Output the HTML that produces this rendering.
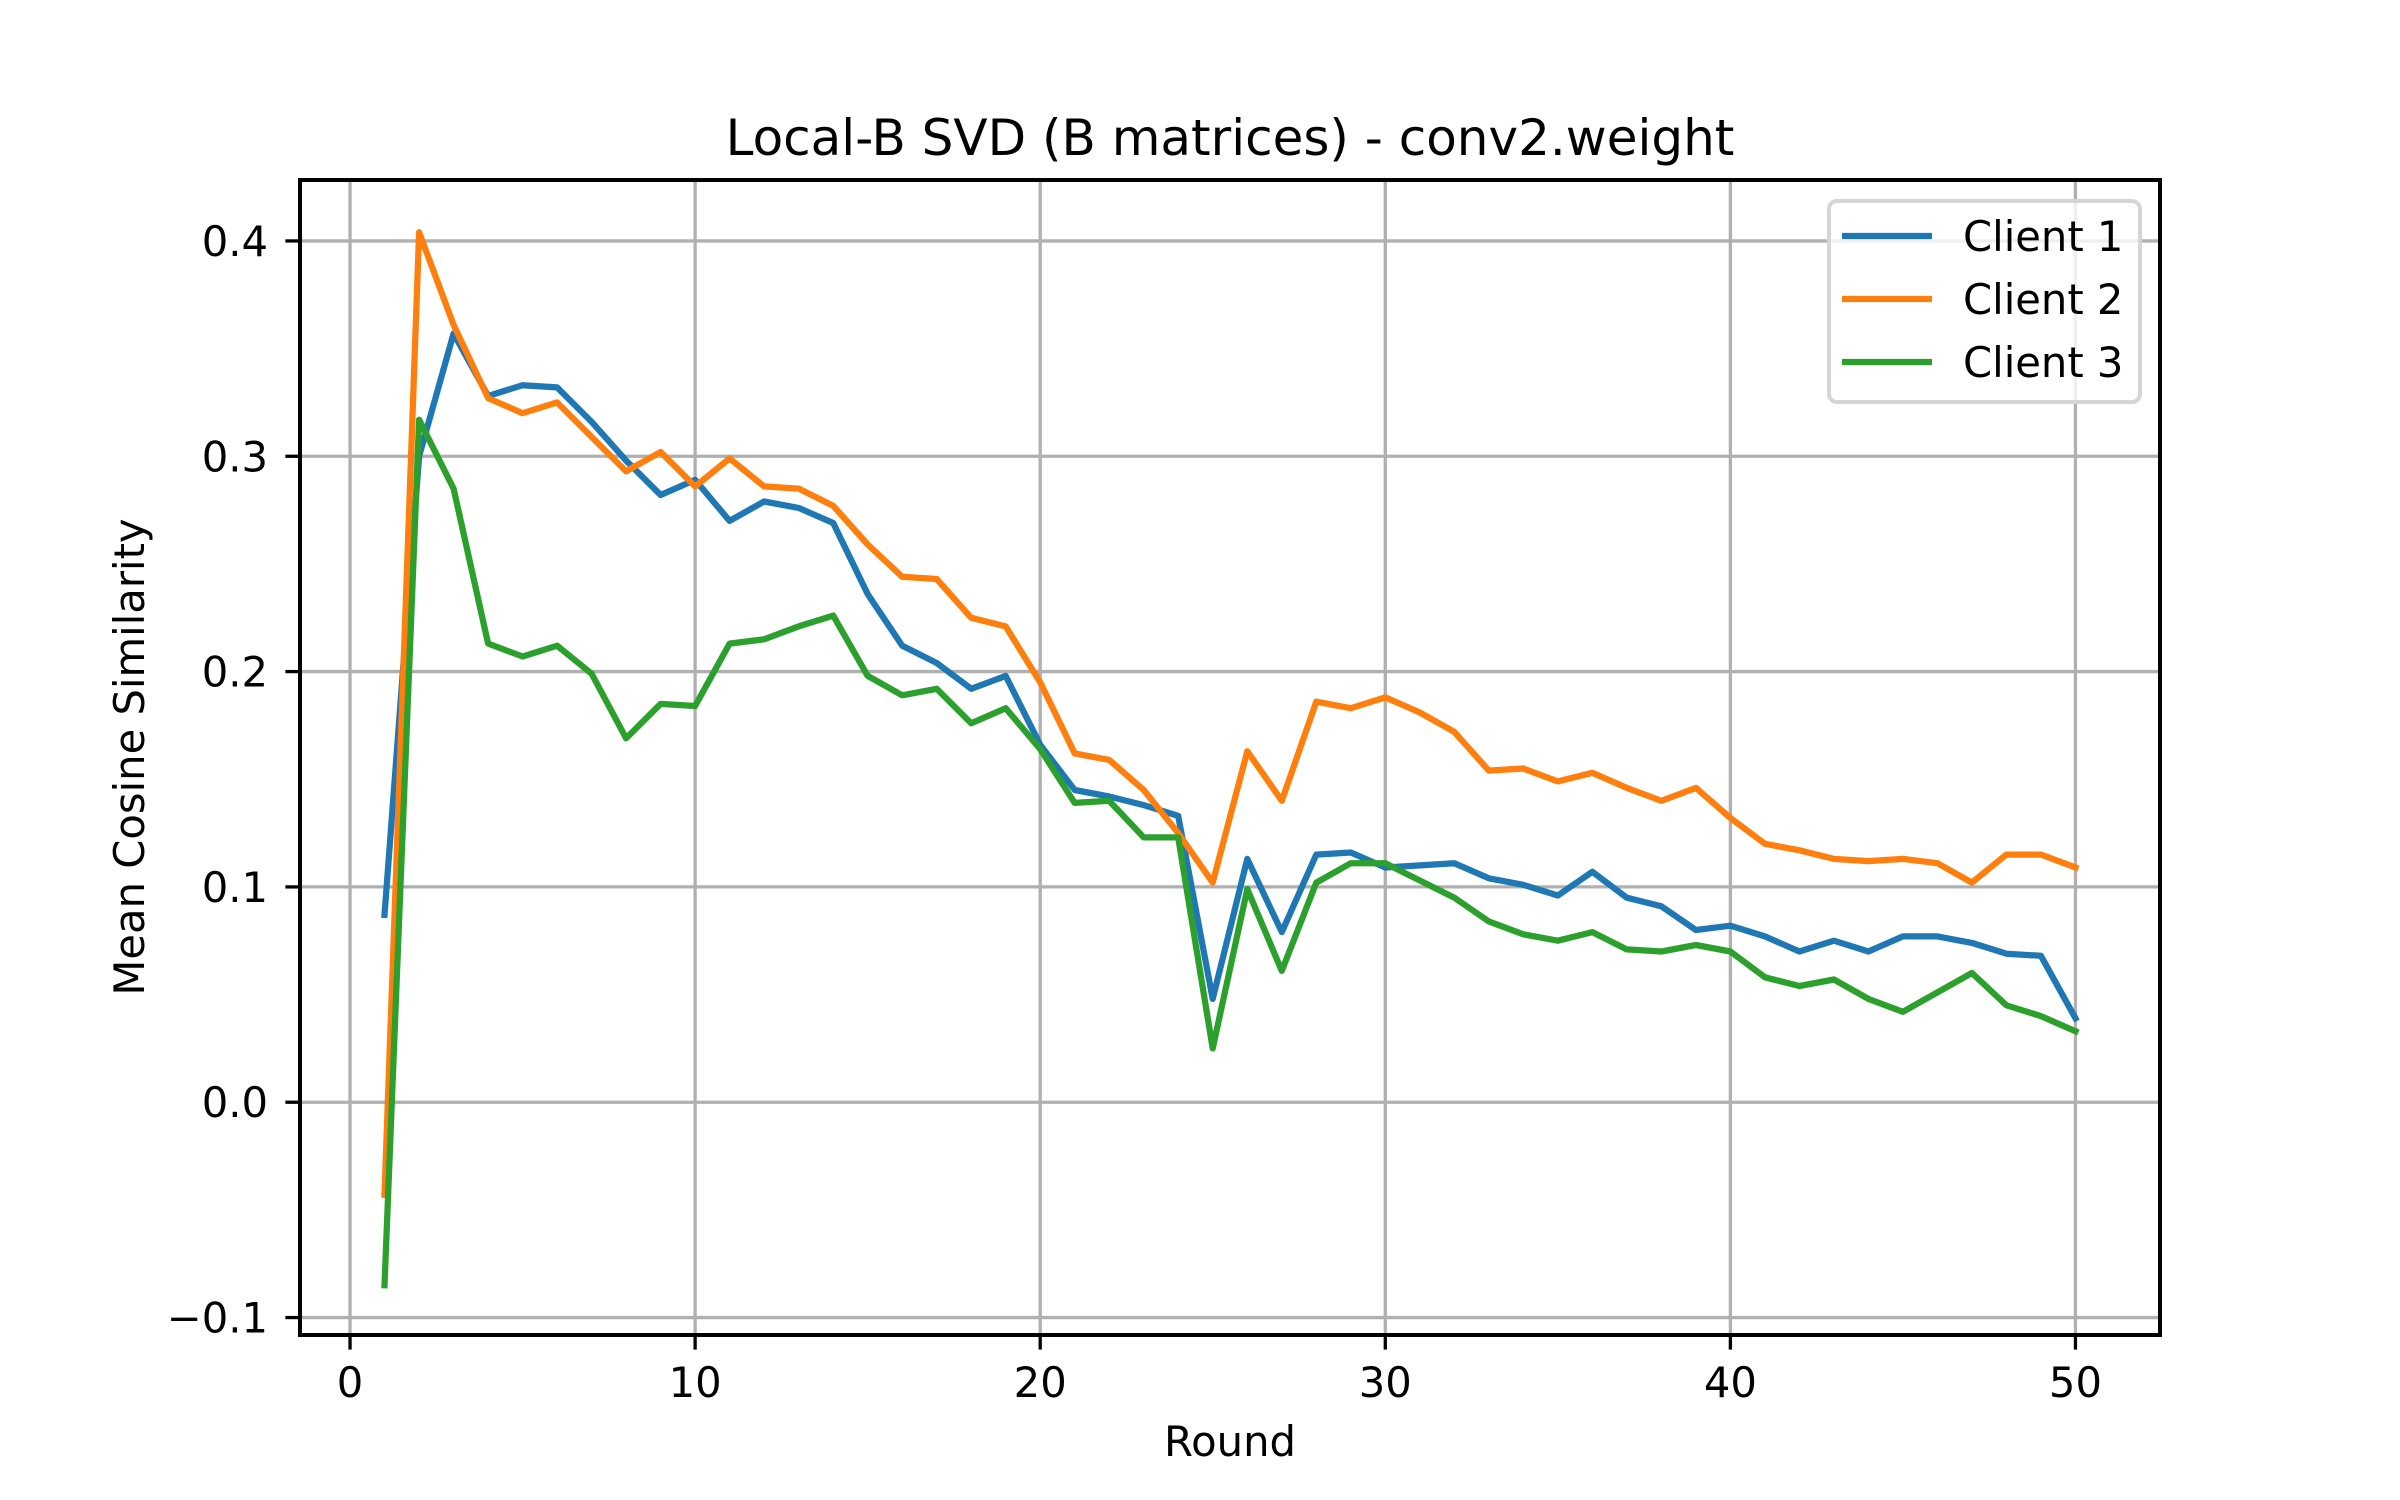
<!DOCTYPE html>
<html><head><meta charset="utf-8"><style>
html,body{margin:0;padding:0;background:#fff;}
svg{display:block;font-family:"DejaVu Sans","Liberation Sans",sans-serif;}
</style></head><body>
<svg id="chart" width="2400" height="1500" viewBox="0 0 2400 1500" xmlns="http://www.w3.org/2000/svg">
<rect x="0" y="0" width="2400" height="1500" fill="#fff"/>
<g id="grid"></g>
<g id="series"></g>
<rect x="300" y="180" width="1860" height="1155" fill="none" stroke="#000" stroke-width="4"/>
<g id="ticks"></g>
<text x="1230" y="155" font-size="50" text-anchor="middle">Local-B SVD (B matrices) - conv2.weight</text>
<text x="1230" y="1456" font-size="41.7" text-anchor="middle">Round</text>
<text x="0" y="0" font-size="41.7" text-anchor="middle" transform="translate(144,757) rotate(-90)">Mean Cosine Similarity</text>
<g id="legend">
<rect x="1829" y="201" width="311" height="201" rx="8" fill="#fff" fill-opacity="0.8" stroke="#d5d5d5" stroke-width="4"/>
</g>
</svg>
<script>
const rounds = Array.from({length:50},(_,i)=>i+1);
const client1 = [0.087,0.300,0.357,0.328,0.333,0.332,0.316,0.298,0.282,0.289,0.270,0.279,0.276,0.269,0.236,0.212,0.204,0.192,0.198,0.166,0.145,0.142,0.138,0.133,0.048,0.113,0.079,0.115,0.116,0.109,0.110,0.111,0.104,0.101,0.096,0.107,0.095,0.091,0.080,0.082,0.077,0.070,0.075,0.070,0.077,0.077,0.074,0.069,0.068,0.039];
const client2 = [-0.043,0.404,0.361,0.327,0.320,0.325,0.309,0.293,0.302,0.286,0.299,0.286,0.285,0.277,0.259,0.244,0.243,0.225,0.221,0.195,0.162,0.159,0.145,0.125,0.102,0.163,0.140,0.186,0.183,0.188,0.181,0.172,0.154,0.155,0.149,0.153,0.146,0.140,0.146,0.132,0.120,0.117,0.113,0.112,0.113,0.111,0.102,0.115,0.115,0.109];
const client3 = [-0.085,0.317,0.285,0.213,0.207,0.212,0.199,0.169,0.185,0.184,0.213,0.215,0.221,0.226,0.198,0.189,0.192,0.176,0.183,0.164,0.139,0.140,0.123,0.123,0.025,0.099,0.061,0.102,0.111,0.111,0.103,0.095,0.084,0.078,0.075,0.079,0.071,0.070,0.073,0.070,0.058,0.054,0.057,0.048,0.042,0.051,0.060,0.045,0.040,0.033];
const seriesNames = ["Client 1","Client 2","Client 3"];
const xTicks = [0,10,20,30,40,50];
const yTicks = [-0.1,0.0,0.1,0.2,0.3,0.4];
const yTickLabels = ["\u22120.1","0.0","0.1","0.2","0.3","0.4"];

const NS="http://www.w3.org/2000/svg";
const L=300,R=2160,T=180,B=1335;
const xMin=-1.45,xMax=52.45;
const yMin=-0.1081,yMax=0.4283;
const xs=v=>L+(v-xMin)/(xMax-xMin)*(R-L);
const ys=v=>B-(v-yMin)/(yMax-yMin)*(B-T);
function mk(tag,attrs,parent){const e=document.createElementNS(NS,tag);for(const k in attrs)e.setAttribute(k,attrs[k]);parent.appendChild(e);return e;}
const grid=document.getElementById('grid'),ticks=document.getElementById('ticks');
xTicks.forEach(t=>{
  const g=mk('line',{x1:xs(t),x2:xs(t),y1:T,y2:B,stroke:'#b0b0b0','stroke-width':3.3},grid);
  
  
  const tk=mk('line',{x1:xs(t),x2:xs(t),y1:B,y2:B+14.6,stroke:'#000','stroke-width':3.3},ticks);
  
  
  const tx=mk('text',{x:xs(t),y:1397,'font-size':41.7,'text-anchor':'middle'},ticks);
  tx.textContent=String(t);
  
  
});
yTicks.forEach((t,i)=>{
  const g=mk('line',{x1:L,x2:R,y1:ys(t),y2:ys(t),stroke:'#b0b0b0','stroke-width':3.3},grid);
  
  
  const tk=mk('line',{x1:L-14.6,x2:L,y1:ys(t),y2:ys(t),stroke:'#000','stroke-width':3.3},ticks);
  
  
  const tx=mk('text',{x:268,y:ys(t)+15,'font-size':41.7,'text-anchor':'end'},ticks);
  tx.textContent=yTickLabels[i];
  
  
});
const colors=['#1f77b4','#ff7f0e','#2ca02c'];
const data=[client1,client2,client3];
const sg=document.getElementById('series'),lg=document.getElementById('legend');
data.forEach((arr,si)=>{
  const pts=arr.map((v,i)=>xs(rounds[i]).toFixed(1)+','+ys(v).toFixed(1)).join(' ');
  const p=mk('polyline',{points:pts,fill:'none',stroke:colors[si],'stroke-width':6.25,'stroke-linejoin':'round','stroke-linecap':'square'},sg);
  
  
  const ly=236+si*63;
  const ll=mk('line',{x1:1842,x2:1932,y1:ly,y2:ly,stroke:colors[si],'stroke-width':6.25},lg);
  
  
  const lt=mk('text',{x:1963,y:ly+15,'font-size':41.7},lg);
  lt.textContent=seriesNames[si];
  
  
});
</script>
</body></html>
